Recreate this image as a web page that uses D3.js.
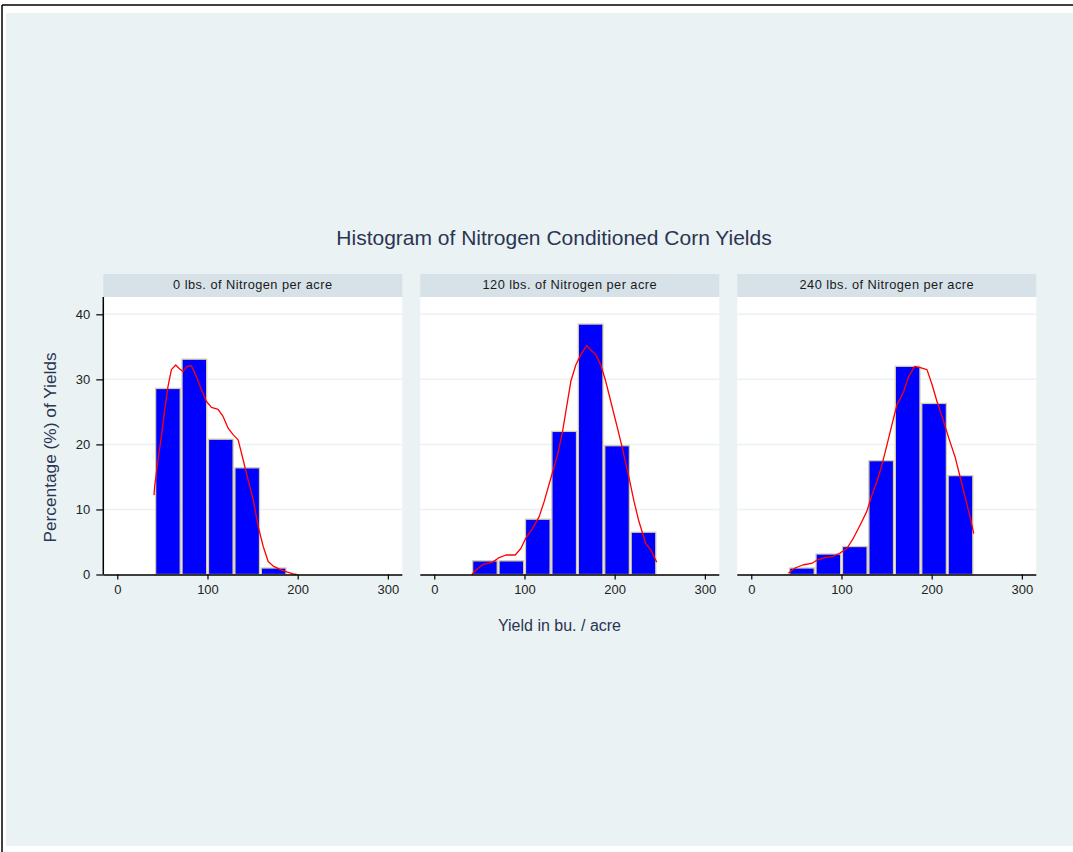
<!DOCTYPE html>
<html>
<head>
<meta charset="utf-8">
<script src="https://cdn.jsdelivr.net/npm/d3@7"></script>
<style>
  html, body { margin: 0; padding: 0; background: #ffffff; }
  svg { display: block; font-family: "Liberation Sans", Arial, sans-serif; }
</style>
</head>
<body>
<svg id="chart" width="1073" height="852"></svg>
<script>
// Percentage of yields per bin, by nitrogen level, with kernel density overlays
const panelTitles = [
  "0 lbs. of Nitrogen per acre",
  "120 lbs. of Nitrogen per acre",
  "240 lbs. of Nitrogen per acre"
];
const binEdges = [41.5, 70.8, 100.1, 129.4, 158.7, 188.0, 217.3, 246.6];
const pct0   = [28.6, 33.1, 20.8, 16.4, 1.0, 0, 0];
const pct120 = [2.1, 2.1, 8.5, 22.0, 38.5, 19.8, 6.5];
const pct240 = [1.0, 3.15, 4.3, 17.5, 32.0, 26.3, 15.2];

const densX0 = [40.7, 41.4, 45.1, 48.9, 52.6, 56.2, 60, 64.8, 69.2, 72.9, 77.3, 82.2, 87.8, 93.3, 98.9, 104.4, 111.8, 117.3, 122.9, 128.4, 134, 139.6, 145.1, 150.7, 156.2, 161.8, 167.3, 172.9, 180.3, 187.8, 195.1, 198.9];
const densY0 = [12.2, 13.5, 17.6, 21.2, 25.3, 28.9, 31.5, 32.2, 31.6, 31.2, 32.0, 32.1, 30.4, 28.4, 26.6, 25.7, 25.4, 24.3, 22.5, 21.5, 20.7, 17.6, 14.5, 11.5, 7.4, 4.3, 2.0, 1.3, 0.8, 0.4, 0.1, 0];
const densX120 = [41.7, 46.2, 53.6, 64.7, 72, 79.4, 89.7, 96, 101.5, 109, 116.3, 121.8, 129.2, 136.7, 142.2, 145.8, 151.4, 156.9, 162.5, 168.8, 173.5, 179, 184.6, 190.1, 195.7, 203.1, 208.6, 216, 221.5, 227, 234.4, 239.9, 246.6];
const densY120 = [0, 0.7, 1.5, 1.9, 2.6, 3.0, 3.0, 4.0, 5.6, 7.1, 8.9, 11.2, 14.8, 18.4, 22.0, 25.0, 29.7, 32.2, 33.8, 35.2, 34.5, 33.8, 32.2, 29.7, 26.6, 22.5, 19.4, 14.8, 11.2, 8.1, 4.8, 3.8, 1.9];
const densX240 = [41.1, 48.5, 57.8, 67, 72.6, 81.8, 91.1, 98.5, 105.9, 113.3, 120.7, 128.1, 133.7, 139.3, 144.8, 150.4, 155.9, 161.5, 168.9, 174.4, 181.1, 187.4, 194.8, 200.4, 205.9, 213.3, 218.9, 226.3, 231.9, 237.4, 243, 246.7];
const densY240 = [0.2, 1.0, 1.5, 1.7, 2.2, 2.6, 2.8, 3.3, 4.0, 5.6, 7.6, 9.7, 12.2, 14.3, 16.8, 19.9, 23.0, 26.1, 28.1, 30.4, 32.0, 31.8, 31.5, 29.2, 26.6, 23.5, 21.0, 17.9, 14.8, 11.7, 8.6, 6.3];

const xTicks = [0, 100, 200, 300];
const yTicks = [0, 10, 20, 30, 40];

const chartTitle = "Histogram of Nitrogen Conditioned Corn Yields";
const xTitle = "Yield in bu. / acre";
const yTitle = "Percentage (%) of Yields";

const panels = [
  { title: panelTitles[0], pct: pct0,   dx: densX0,   dy: densY0 },
  { title: panelTitles[1], pct: pct120, dx: densX120, dy: densY120 },
  { title: panelTitles[2], pct: pct240, dx: densX240, dy: densY240 }
];

// layout
const W = 1073, H = 852;
const panelW = 299, panelStep = 317, firstLeft = 103.3;
const stripTop = 274, stripH = 23;
const plotTop = stripTop + stripH, plotBottom = 574.5;

const svg = d3.select("#chart");

// outer page frame and graph region
svg.append("rect").attr("x", 6).attr("y", 13).attr("width", W - 6).attr("height", 846 - 13)
  .attr("fill", "#eaf2f3");
svg.append("line").attr("x1", 2).attr("x2", W).attr("y1", 5).attr("y2", 5)
  .attr("stroke", "#000").attr("stroke-width", 1.5);
svg.append("line").attr("x1", 2).attr("x2", 2).attr("y1", 5).attr("y2", H)
  .attr("stroke", "#000").attr("stroke-width", 1.5);

// chart title
svg.append("text").attr("x", 554).attr("y", 245).attr("text-anchor", "middle")
  .attr("font-size", 21).attr("fill", "#2b3552").text(chartTitle);

const y = d3.scaleLinear().domain([0, 42.66]).range([plotBottom, plotTop]);

panels.forEach((p, i) => {
  const left = firstLeft + i * panelStep;
  const x = d3.scaleLinear().domain([-15.5, 316]).range([left, left + panelW]);
  const g = svg.append("g");

  // strip header
  g.append("rect").attr("x", left).attr("y", stripTop).attr("width", panelW).attr("height", stripH)
    .attr("fill", "#d7e2e8");
  g.append("text").attr("x", left + panelW / 2).attr("y", stripTop + 15)
    .attr("text-anchor", "middle").attr("font-size", 12.8).attr("letter-spacing", 0.45)
    .attr("fill", "#1a1a1a").text(p.title);

  // plot region
  g.append("rect").attr("x", left).attr("y", plotTop).attr("width", panelW).attr("height", plotBottom - plotTop)
    .attr("fill", "#ffffff");

  // horizontal gridlines
  g.selectAll("line.grid").data(yTicks.filter(t => t > 0)).enter().append("line")
    .attr("class", "grid")
    .attr("x1", left).attr("x2", left + panelW)
    .attr("y1", d => y(d)).attr("y2", d => y(d))
    .attr("stroke", "#eaf2f3").attr("stroke-width", 1.5);

  // histogram bars
  const bins = p.pct.map((v, k) => ({ x0: binEdges[k], x1: binEdges[k + 1], v }))
    .filter(b => b.v > 0);
  g.selectAll("rect.bar").data(bins).enter().append("rect")
    .attr("class", "bar")
    .attr("x", d => x(d.x0) + 0.9)
    .attr("width", d => x(d.x1) - x(d.x0) - 1.8)
    .attr("y", d => y(d.v))
    .attr("height", d => y(0) - y(d.v))
    .attr("fill", "#0000ff").attr("stroke", "#d6cca4").attr("stroke-width", 1.3);

  // density curve
  const pts = p.dx.map((v, k) => [v, p.dy[k]]);
  g.append("path").datum(pts)
    .attr("d", d3.line().x(d => x(d[0])).y(d => y(d[1])))
    .attr("fill", "none").attr("stroke", "#ff0000").attr("stroke-width", 1.3)
    .attr("stroke-linejoin", "round");

  // x axis
  const xAxis = d3.axisBottom(x).tickValues(xTicks).tickSize(5).tickPadding(5).tickSizeOuter(0);
  const ax = g.append("g").attr("transform", `translate(0,${plotBottom})`).call(xAxis);
  ax.select(".domain").attr("stroke", "#000").attr("stroke-width", 1.5)
    .attr("d", `M${left},0.5H${left + panelW}`);
  ax.selectAll(".tick line").attr("stroke", "#000").attr("stroke-width", 1.2);
  ax.selectAll(".tick text").attr("font-size", 13).attr("fill", "#222")
    .attr("font-family", "Liberation Sans, Arial, sans-serif");

  // y axis on the first panel only
  if (i === 0) {
    const yAxis = d3.axisLeft(y).tickValues(yTicks).tickSize(7).tickPadding(6).tickSizeOuter(0);
    const ay = g.append("g").attr("transform", `translate(${left},0)`).call(yAxis);
    ay.select(".domain").attr("stroke", "#000").attr("stroke-width", 1.5)
      .attr("d", `M0,${plotTop}V${plotBottom}`);
    ay.selectAll(".tick line").attr("stroke", "#000").attr("stroke-width", 1.2);
    ay.selectAll(".tick text").attr("font-size", 13).attr("fill", "#222")
      .attr("font-family", "Liberation Sans, Arial, sans-serif");
  }
});

// axis titles
svg.append("text").attr("x", 559.5).attr("y", 631).attr("text-anchor", "middle")
  .attr("font-size", 16).attr("fill", "#2b3552").text(xTitle);
svg.append("text").attr("transform", "translate(56,447.5) rotate(-90)")
  .attr("text-anchor", "middle").attr("font-size", 17.3).attr("fill", "#2b3552").text(yTitle);
</script>
</body>
</html>
